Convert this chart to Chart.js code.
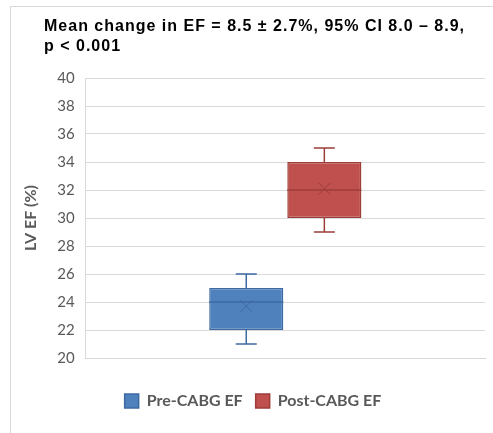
<!DOCTYPE html>
<html>
<head>
<meta charset="utf-8">
<script src="https://cdn.jsdelivr.net/npm/chart.js@4/dist/chart.umd.min.js"></script>
<style>
  html, body { margin: 0; padding: 0; background: #fff; }
  #quadro {
    position: absolute; left: 10px; top: 6px;
    width: 482px; height: 426px;
    border-left: 1px solid #d9d9d9; border-top: 1px solid #d9d9d9;
  }
  #titulo {
    position: absolute; left: 44px; top: 16px;
    font: bold 16px "Liberation Sans", Arial, sans-serif;
    letter-spacing: 1px;
    line-height: 20px; color: #000;
  }
  canvas { position: absolute; left: 0; top: 0; }
</style>
</head>
<body>
<div id="quadro"><canvas id="grafico" width="482" height="426"></canvas></div>
<div id="titulo">Mean change in EF = 8.5 ± 2.7%, 95% CI 8.0 – 8.9,<br>p &lt; 0.001</div>
<script>
// ─── Dados ────────────────────────────────────────────────────────────────────
const SERIES   = ['Pre-CABG EF', 'Post-CABG EF'];
const MINIMO   = [21, 29];
const Q1       = [22, 30];
const MEDIANA  = [24, 32];
const Q3       = [25, 34];
const MAXIMO   = [26, 35];
const MEDIA    = [23.7, 32.1];
const Y_TICKS  = [20, 22, 24, 26, 28, 30, 32, 34, 36, 38, 40];

// Cores por série
const COR_FUNDO = ['#4f81bd', '#c0504d'];
const COR_BORDA = ['#3d6aa3', '#9c3d3a'];

const cinzaTexto = '#595959';
const cinzaGrade = '#d9d9d9';

// ─── Bigodes, mediana e média (desenhados pelas escalas) ─────────────────────
const boxplotExtra = {
  id: 'boxplotExtra',
  afterDatasetsDraw(chart) {
    const { ctx } = chart;
    const y = chart.scales.y;
    SERIES.forEach((_, i) => {
      const bar = chart.getDatasetMeta(i).data[0];
      if (!bar) return;
      const x = bar.x;
      const half = bar.width / 2;
      const cap = 10.5;
      ctx.save();
      ctx.strokeStyle = COR_BORDA[i];
      ctx.lineWidth = 1.5;
      ctx.beginPath();
      // bigode superior
      ctx.moveTo(x, y.getPixelForValue(Q3[i]));
      ctx.lineTo(x, y.getPixelForValue(MAXIMO[i]));
      ctx.moveTo(x - cap, y.getPixelForValue(MAXIMO[i]));
      ctx.lineTo(x + cap, y.getPixelForValue(MAXIMO[i]));
      // bigode inferior
      ctx.moveTo(x, y.getPixelForValue(Q1[i]));
      ctx.lineTo(x, y.getPixelForValue(MINIMO[i]));
      ctx.moveTo(x - cap, y.getPixelForValue(MINIMO[i]));
      ctx.lineTo(x + cap, y.getPixelForValue(MINIMO[i]));
      ctx.stroke();
      // mediana
      ctx.beginPath();
      ctx.moveTo(x - half, y.getPixelForValue(MEDIANA[i]));
      ctx.lineTo(x + half, y.getPixelForValue(MEDIANA[i]));
      ctx.stroke();
      // média (x)
      const ym = y.getPixelForValue(MEDIA[i]);
      const r = 6;
      ctx.lineWidth = 1;
      ctx.beginPath();
      ctx.moveTo(x - r, ym - r); ctx.lineTo(x + r, ym + r);
      ctx.moveTo(x + r, ym - r); ctx.lineTo(x - r, ym + r);
      ctx.stroke();
      ctx.restore();
    });
  }
};

// ─── Gráfico ─────────────────────────────────────────────────────────────────
const datasets = SERIES.map((nome, i) => ({
  label:           nome,
  data:            [[Q1[i], Q3[i]]],
  backgroundColor: COR_FUNDO[i],
  borderColor:     COR_BORDA[i],
  borderWidth:     1.5,
  borderSkipped:   false,
  categoryPercentage: 0.391,
  barPercentage:      0.949,
}));

new Chart(document.getElementById('grafico'), {
  type: 'bar',
  data: { labels: [''], datasets },
  plugins: [boxplotExtra],
  options: {
    responsive: false,
    animation: false,
    layout: { padding: { top: 71, right: 8, left: 10, bottom: 14 } },
    scales: {
      x: {
        ticks: { display: false },
        grid: { display: false },
        border: { display: true, color: cinzaGrade },
        afterFit: axis => { axis.height = 22; },
      },
      y: {
        min: 20,
        max: 40,
        afterBuildTicks: axis => { axis.ticks = Y_TICKS.map(v => ({ value: v })); },
        ticks: {
          color: cinzaTexto,
          padding: 11,
          font: { family: 'Lato', size: 15 },
        },
        grid: { color: cinzaGrade, drawTicks: false },
        border: { color: cinzaGrade },
        title: {
          display: true,
          text: 'LV EF (%)',
          color: cinzaTexto,
          padding: { top: 0, bottom: 6 },
          font: { family: 'Lato', size: 16, weight: 'bold' },
        },
      },
    },
    plugins: {
      legend: {
        position: 'bottom',
        labels: {
          color: cinzaTexto,
          boxWidth: 14,
          boxHeight: 14,
          padding: 13,
          font: { family: 'Lato', size: 16, weight: 'bold' },
        },
      },
      tooltip: { enabled: false },
    },
  },
});
</script>
</body>
</html>
